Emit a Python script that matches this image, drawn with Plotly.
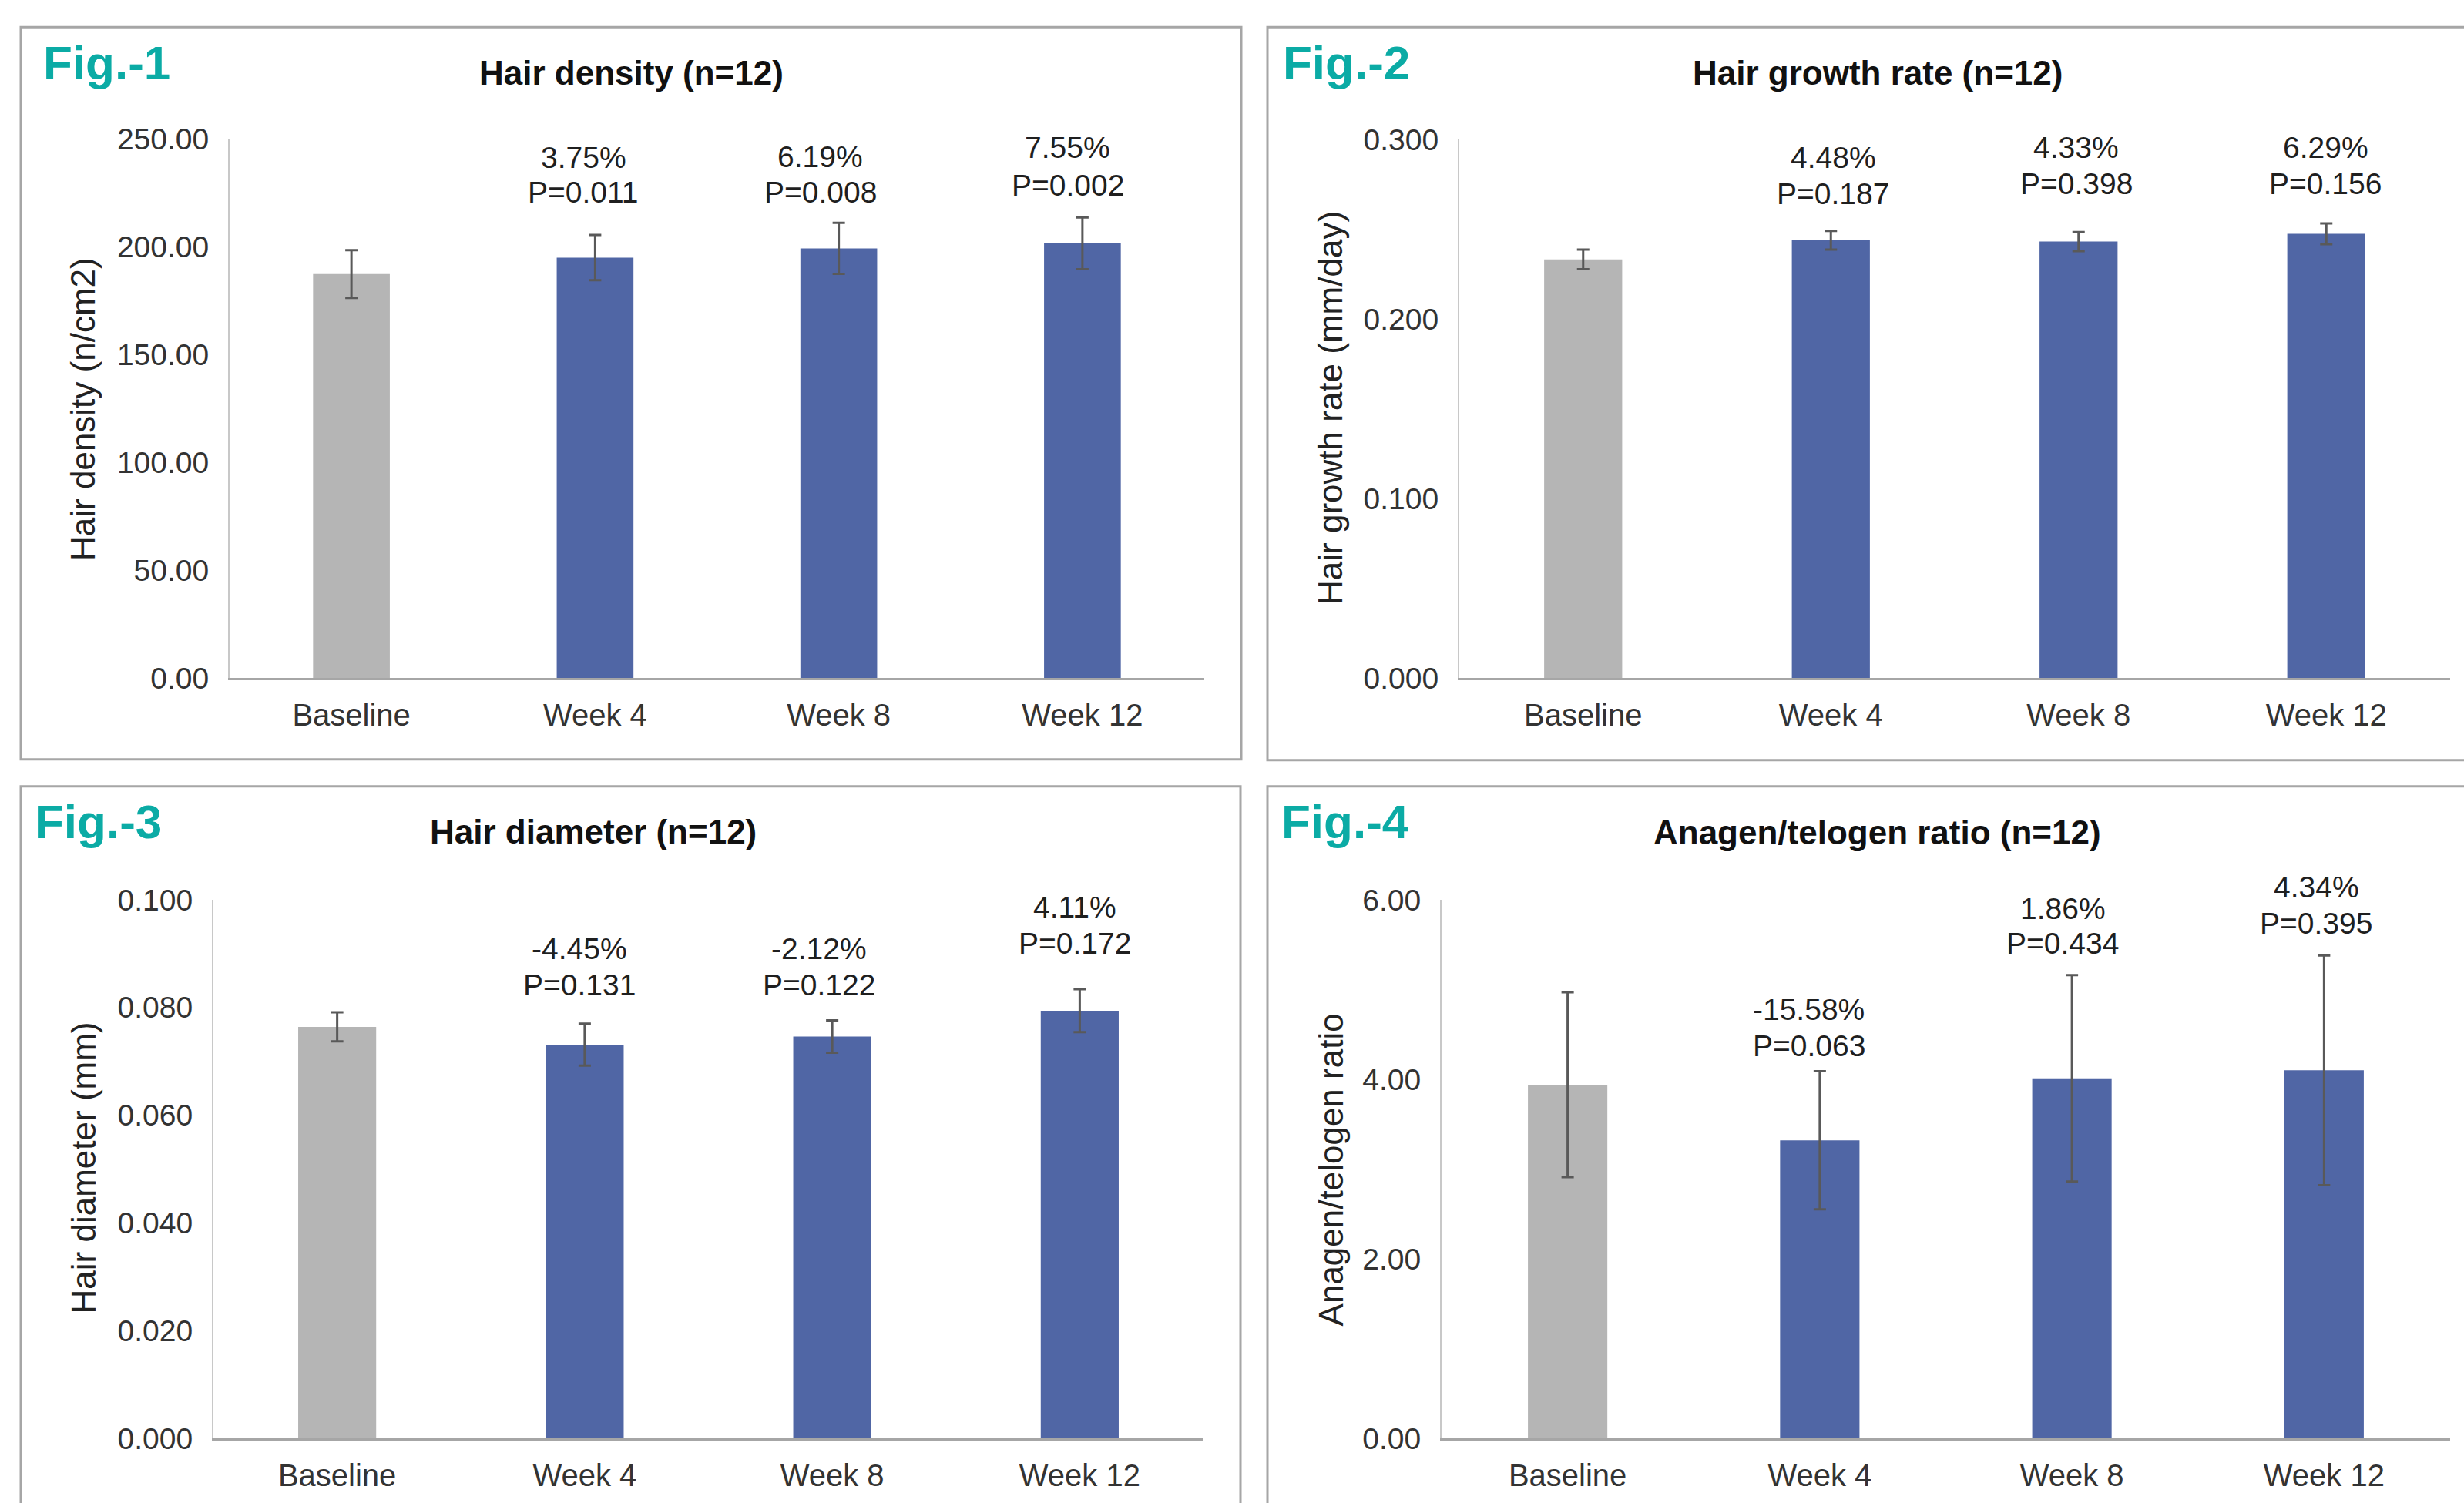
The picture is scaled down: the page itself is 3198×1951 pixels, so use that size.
import plotly.graph_objects as go

W, H = 3198, 1951

# ---------------- data ----------------
categories = ["Baseline", "Week 4", "Week 8", "Week 12"]

density_mean = [187.4, 195.0, 199.3, 201.6]
density_err = [11.1, 10.5, 11.8, 12.0]
density_pct = ["3.75%", "6.19%", "7.55%"]
density_p = ["P=0.011", "P=0.008", "P=0.002"]

growth_mean = [0.2332, 0.2439, 0.2431, 0.2474]
growth_err = [0.0055, 0.0052, 0.0053, 0.0058]
growth_pct = ["4.48%", "4.33%", "6.29%"]
growth_p = ["P=0.187", "P=0.398", "P=0.156"]

diameter_mean = [0.0764, 0.0731, 0.0746, 0.0794]
diameter_err = [0.0027, 0.0039, 0.0030, 0.0040]
diameter_pct = ["-4.45%", "-2.12%", "4.11%"]
diameter_p = ["P=0.131", "P=0.122", "P=0.172"]

ratio_mean = [3.94, 3.32, 4.01, 4.10]
ratio_err = [1.03, 0.77, 1.15, 1.28]
ratio_pct = ["-15.58%", "1.86%", "4.34%"]
ratio_p = ["P=0.063", "P=0.434", "P=0.395"]

# ---------------- styles / layout ----------------
FONT = "Arial, Liberation Sans, sans-serif"
GRAY_BAR = "#B5B5B5"
BLUE_BAR = "#5066A5"
TEAL = "#0BABA5"
BORDER = "#A6A6A6"
bar_colors = [GRAY_BAR, BLUE_BAR, BLUE_BAR, BLUE_BAR]

# vertical calibration of the capture (page is captured slightly taller than the figure)
CAL_OFF = 20.8
CAL_SCALE = 0.9765

panels = [
    dict(fig="Fig.-1", title="Hair density (n=12)", ytitle="Hair density (n/cm2)",
         mean=density_mean, err=density_err, pct=density_pct, p=density_p,
         rng=[0, 250], dtick=50, fmt=".2f",
         ax=(298, 1563), ay=(879, 180), figpos=(54, 81), tpos=(819, 94), ytpos=(108, 530),
         labels=[(-15, 204, 249), (-24, 203, 249), (-19, 191, 240)],
         box=(27, 35, 1611, 984)),
    dict(fig="Fig.-2", title="Hair growth rate (n=12)", ytitle="Hair growth rate (mm/day)",
         mean=growth_mean, err=growth_err, pct=growth_pct, p=growth_p,
         rng=[0, 0.3], dtick=0.1, fmt=".3f",
         ax=(1894, 3180), ay=(879, 180.5), figpos=(1663, 81), tpos=(2437, 94), ytpos=(1727, 529),
         labels=[(3, 204, 251), (-3, 191, 238), (-1, 191, 238)],
         box=(1645, 35, 3215, 985)),
    dict(fig="Fig.-3", title="Hair diameter (n=12)", ytitle="Hair diameter (mm)",
         mean=diameter_mean, err=diameter_err, pct=diameter_pct, p=diameter_p,
         rng=[0, 0.1], dtick=0.02, fmt=".3f",
         ax=(277, 1562), ay=(1864, 1166), figpos=(43, 1065), tpos=(770, 1078), ytpos=(108, 1514),
         labels=[(-7, 1229, 1276), (-17, 1229, 1276), (-6, 1176, 1223)],
         box=(27, 1019, 1610, 2010)),
    dict(fig="Fig.-4", title="Anagen/telogen ratio (n=12)", ytitle="Anagen/telogen ratio",
         mean=ratio_mean, err=ratio_err, pct=ratio_pct, p=ratio_p,
         rng=[0, 6], dtick=2, fmt=".2f",
         ax=(1871, 3180), ay=(1864, 1166), figpos=(1661, 1065), tpos=(2436, 1079), ytpos=(1727, 1516),
         labels=[(-14, 1308, 1355), (-12, 1178, 1223), (-10, 1150, 1197)],
         box=(1645, 1019, 3215, 2010)),
]


def px_x(v):
    return v / W


def px_y(v):
    fy = (v - CAL_OFF) / CAL_SCALE
    return 1 - fy / H


fig = go.Figure()
annotations = []
shapes = []

for i, pn in enumerate(panels, start=1):
    sfx = "" if i == 1 else str(i)
    fig.add_trace(go.Bar(
        x=categories, y=pn["mean"],
        marker=dict(color=bar_colors, line=dict(width=0)),
        width=0.315,
        error_y=dict(type="data", array=pn["err"], visible=True,
                     color="#595959", thickness=3, width=8),
        xaxis="x" + sfx, yaxis="y" + sfx,
        showlegend=False, hoverinfo="skip",
    ))
    x0, x1 = pn["ax"]
    yb, yt = pn["ay"]
    fig.update_layout(**{
        "xaxis" + sfx: dict(
            domain=[px_x(x0), px_x(x1)], anchor="y" + sfx,
            showline=True, linecolor="#A6A6A6", linewidth=3,
            showgrid=False, zeroline=False, ticks="",
            tickfont=dict(family=FONT, size=40, color="#333333"),
            ticklabelstandoff=11, fixedrange=True,
        ),
        "yaxis" + sfx: dict(
            domain=[px_y(yb), px_y(yt)], anchor="x" + sfx,
            range=pn["rng"], dtick=pn["dtick"], tickformat=pn["fmt"],
            showline=True, linecolor="#C8C8C8", linewidth=2,
            showgrid=False, zeroline=False, ticks="",
            tickfont=dict(family=FONT, size=39, color="#333333"),
            ticklabelstandoff=17, fixedrange=True,
        ),
    })

    # panel frame
    bx0, by0, bx1, by1 = pn["box"]
    shapes.append(dict(type="rect", xref="paper", yref="paper",
                       x0=px_x(bx0), x1=px_x(bx1), y0=px_y(by0), y1=px_y(by1),
                       line=dict(color=BORDER, width=3), fillcolor="rgba(0,0,0,0)",
                       layer="below"))

    # "Fig.-n" label
    fx, fy = pn["figpos"]
    annotations.append(dict(text="<b>%s</b>" % pn["fig"], xref="paper", yref="paper",
                            x=px_x(fx), y=px_y(fy), xanchor="left", yanchor="middle",
                            showarrow=False, font=dict(family=FONT, size=62, color=TEAL)))
    # chart title
    tx, ty = pn["tpos"]
    annotations.append(dict(text="<b>%s</b>" % pn["title"], xref="paper", yref="paper",
                            x=px_x(tx), y=px_y(ty), xanchor="center", yanchor="middle",
                            showarrow=False, font=dict(family=FONT, size=44, color="#111111")))
    # y-axis title
    ax_, ay_ = pn["ytpos"]
    annotations.append(dict(text=pn["ytitle"], xref="paper", yref="paper",
                            x=px_x(ax_), y=px_y(ay_), xanchor="center", yanchor="middle",
                            textangle=-90, showarrow=False,
                            font=dict(family=FONT, size=44, color="#222222")))
    # change / p-value labels
    for k, (xs, y1p, y2p) in enumerate(pn["labels"]):
        cat = categories[k + 1]
        for txt, ypx in ((pn["pct"][k], y1p), (pn["p"][k], y2p)):
            annotations.append(dict(text=txt, xref="x" + sfx, yref="paper",
                                    x=cat, y=px_y(ypx), xshift=xs,
                                    xanchor="center", yanchor="middle", showarrow=False,
                                    font=dict(family=FONT, size=39, color="#1f1f1f")))

fig.update_layout(
    width=W, height=H,
    margin=dict(l=0, r=0, t=0, b=0),
    paper_bgcolor="white", plot_bgcolor="white",
    bargap=0.685,
    annotations=annotations, shapes=shapes,
    showlegend=False,
)

fig.write_html("out.html")
